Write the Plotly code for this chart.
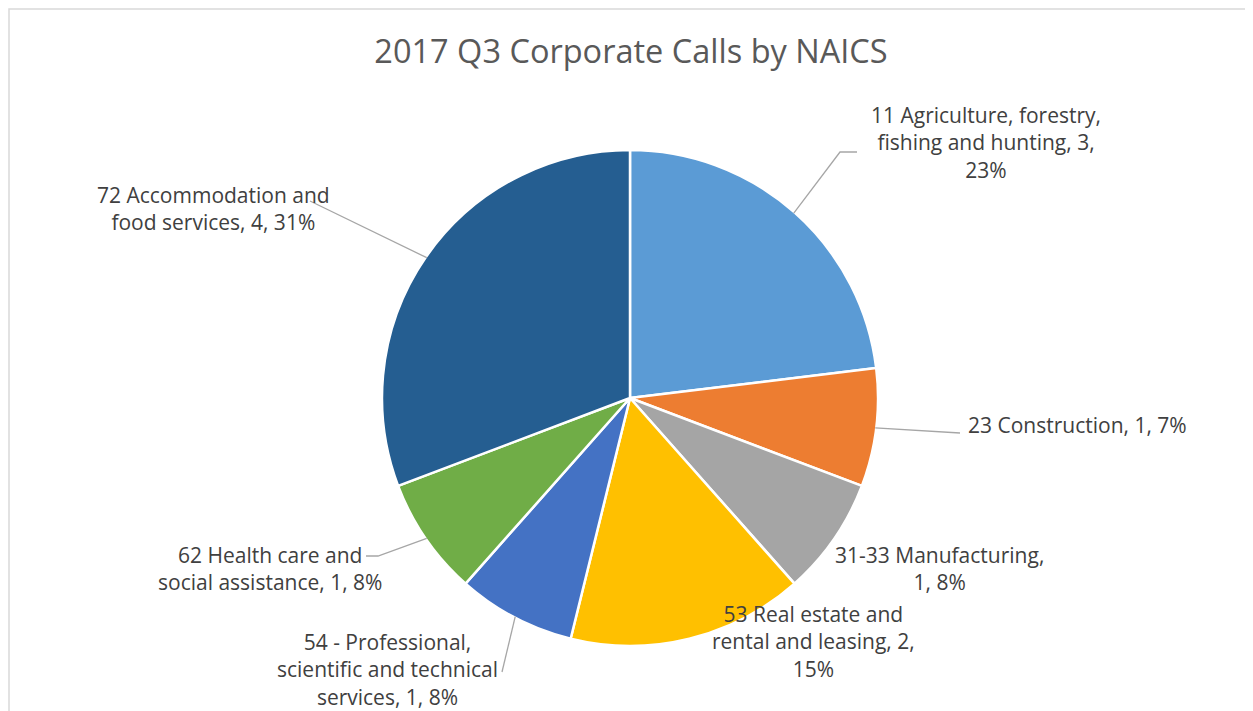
import math
import plotly.graph_objects as go

# ---------------- data ----------------
categories = [
    "11 Agriculture, forestry, fishing and hunting",
    "23 Construction",
    "31-33 Manufacturing",
    "53 Real estate and rental and leasing",
    "54 - Professional, scientific and technical services",
    "62 Health care and social assistance",
    "72 Accommodation and food services",
]
values = [3, 1, 1, 2, 1, 1, 4]
pct_labels = ["23%", "7%", "8%", "15%", "8%", "8%", "31%"]
label_lines = [
    ["11 Agriculture, forestry,", "fishing and hunting, {v},", "{p}"],
    ["23 Construction, {v}, {p}"],
    ["31-33 Manufacturing,", "{v}, {p}"],
    ["53 Real estate and", "rental and leasing, {v},", "{p}"],
    ["54 - Professional,", "scientific and technical", "services, {v}, {p}"],
    ["62 Health care and", "social assistance, {v}, {p}"],
    ["72 Accommodation and", "food services, {v}, {p}"],
]
colors = ["#5B9BD5", "#ED7D31", "#A5A5A5", "#FFC000", "#4472C4", "#70AD47", "#255E91"]
title_text = "2017 Q3 Corporate Calls by NAICS"

# ---------------- layout geometry (pixels) ----------------
W, H = 1253, 711
OX, OY = 8, 8  # page body margin offset
CX, CY, R = 630, 398, 248


def px(x):
    return (x - OX) / W


def py(y):
    return 1 - (y - OY) / H


# label text centres (pixels), anchors and leader elbows (None => no leader)
label_pos = [
    (986, 142, "center"),
    (966, 425, "left"),
    (940, 568, "center"),
    (813, 641, "center"),
    (387, 669, "center"),
    (270, 568, "center"),
    (213, 208, "center"),
]
leader_elbow = [
    [(840, 152), (857, 152)],
    [(960, 433)],
    None,
    None,
    [(502, 672)],
    [(378, 556), (366, 556)],
    [(310, 201)],
]

font_family = "Open Sans, Lato, sans-serif"
text_color = "#404040"

fig = go.Figure(
    go.Pie(
        labels=categories,
        values=values,
        sort=False,
        direction="clockwise",
        rotation=0,
        marker=dict(colors=colors, line=dict(color="white", width=2.5)),
        textinfo="none",
        hoverinfo="label+value+percent",
        domain=dict(x=[px(CX - R), px(CX + R)], y=[py(CY + R), py(CY - R)]),
        showlegend=False,
    )
)

total = sum(values)
annotations = []
shapes = []
cum = 0
for i, v in enumerate(values):
    mid = (cum + v / 2) / total * 2 * math.pi
    cum += v
    # point on the slice edge at the mid angle
    ex = CX + (R - 1) * math.sin(mid)
    ey = CY - (R - 1) * math.cos(mid)
    txt = "<br>".join(l.format(v=v, p=pct_labels[i]) for l in label_lines[i])
    lx, ly, anchor = label_pos[i]
    annotations.append(dict(
        x=px(lx), y=py(ly), xref="paper", yref="paper",
        text=txt, showarrow=False, xanchor=anchor, yanchor="middle",
        align="center", font=dict(family=font_family, size=21, color=text_color),
    ))
    if leader_elbow[i]:
        pts = [(ex, ey)] + leader_elbow[i]
        path = "M " + " L ".join(f"{px(a):.5f},{py(b):.5f}" for a, b in pts)
        shapes.append(dict(type="path", path=path, xref="paper", yref="paper",
                           line=dict(color="#A6A6A6", width=1.3)))

# chart border (top/left visible)
shapes.append(dict(type="rect", xref="paper", yref="paper",
                   x0=px(9), x1=px(1247), y0=py(760), y1=py(9),
                   line=dict(color="#D9D9D9", width=1.5), layer="below"))

fig.update_layout(
    width=W, height=H,
    margin=dict(l=0, r=0, t=0, b=0),
    paper_bgcolor="white", plot_bgcolor="white",
    title=dict(text=title_text, x=px(631), xanchor="center", y=py(52), yanchor="middle",
               font=dict(family=font_family, size=32.5, color="#595959")),
    annotations=annotations,
    shapes=shapes,
)

fig.write_html("out.html")
